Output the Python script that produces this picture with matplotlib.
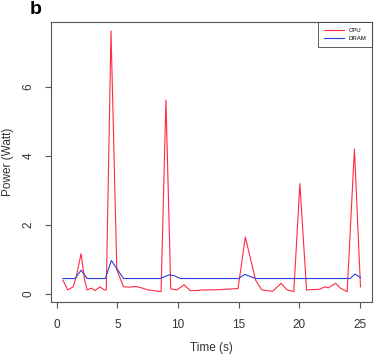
import matplotlib
matplotlib.use("Agg")
import matplotlib.pyplot as plt

plt.rcParams['font.family'] = ['Liberation Sans', 'DejaVu Sans']

cpu_t = [0.5, 0.9, 1.35, 1.6, 2.0, 2.3, 2.5, 2.85, 3.15, 3.55, 3.9, 4.08, 4.47, 4.95, 5.5, 6.0, 6.5,
         7.0, 7.5, 8.0, 8.6, 9.0, 9.4, 9.9, 10.5, 11.0, 11.5, 12.0, 13.0, 14.0, 14.95, 15.55,
         16.4, 16.9, 17.8, 18.5, 19.0, 19.55, 20.05, 20.6, 21.7, 22.1, 22.4, 23.0, 23.4, 23.95,
         24.55, 25.05]
cpu_p = [0.40, 0.12, 0.21, 0.50, 1.17, 0.40, 0.12, 0.17, 0.10, 0.21, 0.12, 0.12, 7.62, 0.70, 0.21,
         0.20, 0.22, 0.18, 0.12, 0.10, 0.07, 5.62, 0.15, 0.12, 0.27, 0.10, 0.10, 0.12, 0.12, 0.14,
         0.16, 1.65, 0.40, 0.12, 0.08, 0.31, 0.12, 0.07, 3.20, 0.12, 0.14, 0.21, 0.18, 0.31, 0.17,
         0.07, 4.20, 0.21]

dram_t = [0.5, 1.5, 2.0, 2.5, 4.0, 4.5, 5.5, 8.5, 9.3, 9.7, 10.2, 15.0, 15.5, 16.4, 24.2, 24.6, 25.05]
dram_p = [0.45, 0.45, 0.69, 0.45, 0.45, 0.97, 0.45, 0.45, 0.56, 0.53, 0.45, 0.45, 0.57, 0.45,
          0.45, 0.58, 0.48]

x_ticks = [0, 5, 10, 15, 20, 25]
y_ticks = [0, 2, 4, 6]

fig = plt.figure(figsize=(3.78, 3.58), dpi=100)
ax = fig.add_axes([51/378, 56/358, 321/378, 280/358])

ax.plot(cpu_t, cpu_p, color="#ff2a40", lw=0.8, label="CPU")
ax.plot(dram_t, dram_p, color="#2b3fe0", lw=0.8, label="DRAM")

ax.set_xlim(-0.48, 26.0)
ax.set_ylim(-0.23, 7.88)
ax.set_xticks(x_ticks)
ax.set_yticks(y_ticks)
ax.set_yticklabels([str(v) for v in y_ticks], rotation=90, va="center")

frame_c = "#555555"
for s in ax.spines.values():
    s.set_color(frame_c)
    s.set_linewidth(0.8)
ax.tick_params(axis="both", direction="out", length=4, width=0.8, color=frame_c,
               labelsize=8.5, labelcolor="#333333")
ax.tick_params(axis="x", pad=8.5)
ax.tick_params(axis="y", pad=8)

ax.set_xlabel("Time (s)", fontsize=8.5, color="#333333", labelpad=8)
ax.set_ylabel("Power (Watt)", fontsize=8.5, color="#333333", labelpad=6)

leg = ax.legend(loc="upper right", fontsize=4.3, frameon=True, fancybox=False,
                borderaxespad=0, handlelength=3.2, borderpad=1.0, labelspacing=0.5)
leg.get_frame().set_edgecolor("#333333")
leg.get_frame().set_linewidth(0.7)

fig.text(30/378, 1 - 9/358, "b", fontsize=14, fontweight="bold", va="center", ha="left")

fig.savefig("out.png", dpi=100)
